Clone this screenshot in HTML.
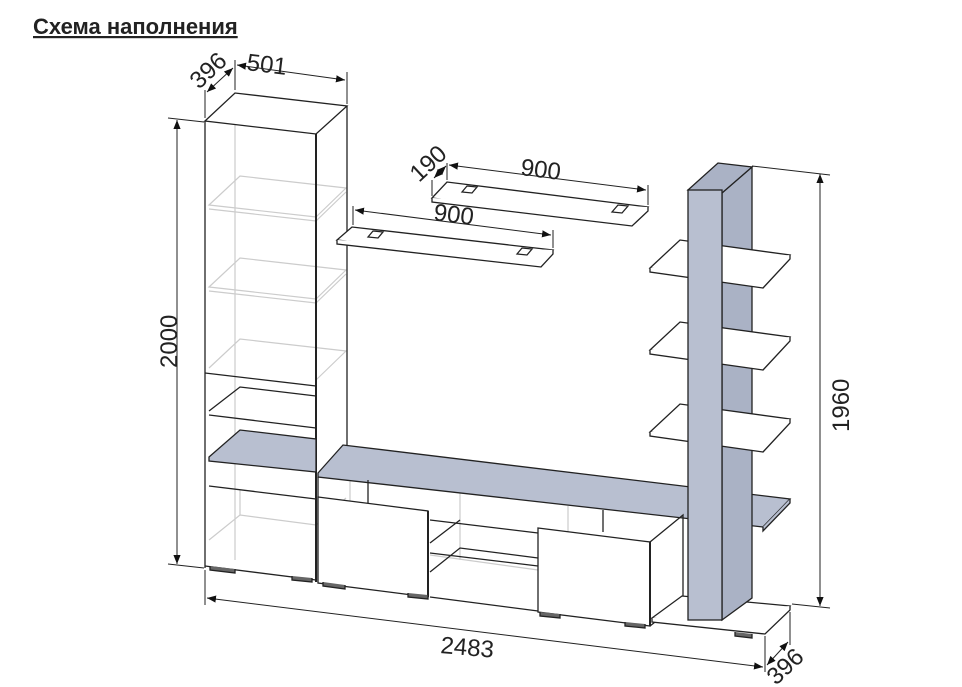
<!DOCTYPE html>
<html><head><meta charset="utf-8"><style>
body{margin:0;background:#fff;width:962px;height:687px;overflow:hidden}
svg{display:block}
text{font-family:"Liberation Sans",sans-serif;fill:#222}
</style></head><body>
<svg width="962" height="687" viewBox="0 0 962 687" xmlns="http://www.w3.org/2000/svg">
<text x="33" y="34" font-size="22" font-weight="bold" text-decoration="underline">Схема наполнения</text>
<defs><marker id="a" viewBox="0 0 10 10" refX="10" refY="5" markerWidth="9" markerHeight="9" orient="auto-start-reverse"><path d="M0,1L10,5L0,9z" fill="#111"/></marker></defs>
<g stroke="#ccc" stroke-width="1.2" fill="none">
<line x1="235" y1="95" x2="235" y2="560"/>
<path d="M209,205 L240,176 L346,188 L316,217 Z"/><path d="M209,209 L316,221 L346,192"/>
<path d="M209,287 L240,258 L346,270 L316,299 Z"/><path d="M209,291 L316,303 L346,274"/>
<path d="M209,368 L240,339 L346,351 L316,380"/>
<path d="M209,540 L240,515 L316,525 L346,498"/><line x1="240" y1="515" x2="240" y2="490"/>
<path d="M320,583 L350,556 L428,565"/><line x1="350" y1="478" x2="350" y2="556"/>
<path d="M540,612 L568,588 L650,598"/><line x1="568" y1="506" x2="568" y2="588"/>
<line x1="460" y1="490" x2="460" y2="560"/>
<line x1="430" y1="555" x2="538" y2="570"/>
</g>
<g stroke="#222" stroke-width="1.3" fill="none">
<path d="M205,121 L235,93 L347,106 L316,134 Z" fill="#fff"/>
<line x1="205" y1="121" x2="205" y2="568"/>
<line x1="316" y1="134" x2="316" y2="582" stroke-width="2"/>
<line x1="347" y1="106" x2="347" y2="445"/>
<path d="M205,373 L316,386"/>
<path d="M209,411 L240,387 L316,396"/><path d="M209,415 L316,428"/>
<path d="M209,457 L240,430 L316,439 L316,472 L209,461 Z" fill="#b8bfd0"/>
<path d="M209,486 L316,499"/>
<path d="M205,566 L316,580"/>
<path d="M210,566 L210,570 L235,573 L235,569 M292,576 L292,580 L312,582 L312,578" fill="#666"/>
<path d="M318,473 L343,445 L790,499 L763,527 L318,477 Z" fill="#b8bfd0"/>
<line x1="318" y1="477" x2="318" y2="582"/>
<line x1="368" y1="480" x2="368" y2="504"/><line x1="603" y1="510" x2="603" y2="532"/>
<path d="M318,497 L428,511 L428,597 L318,583 Z" fill="#fff"/>
<line x1="428" y1="511" x2="428" y2="597" stroke-width="2"/>
<path d="M430,520 L538,533 M430,543 L460,520 M430,553 L538,566 M430,572 L460,548 L538,558 M430,597 L538,611"/>
<path d="M538,528 L650,542 L650,626 L538,612 Z" fill="#fff"/>
<line x1="650" y1="542" x2="650" y2="626" stroke-width="2"/>
<path d="M650,542 L683,515 L683,600 L650,626"/>
<path d="M323,582 L323,586 L345,589 L345,585 M408,593 L408,597 L428,599 L428,595 M540,612 L540,616 L560,618 L560,614 M625,622 L625,626 L645,628 L645,624" fill="#666"/>
<path d="M652,618 L682,596 L790,606 L765,630 Z" fill="#fff"/>
<path d="M652,618 L652,622 L765,634 L790,610 L790,606" fill="#fff"/>
<path d="M735,632 L735,636 L752,638 L752,634" fill="#666"/>
<path d="M722,193 L752,167 L752,598 L722,620 Z" fill="#aab2c5"/>
<g fill="#fff">
<path d="M650,268 L680,240 L790,255 L763,284 Z"/><path d="M650,268 L650,272 L763,288 L790,259 L790,255"/>
<path d="M650,350 L680,322 L790,337 L763,366 Z"/><path d="M650,350 L650,354 L763,370 L790,341 L790,337"/>
<path d="M650,432 L680,404 L790,419 L763,448 Z"/><path d="M650,432 L650,436 L763,452 L790,423 L790,419"/>
</g>
<path d="M763,527 L763,531 L790,503 L790,499" fill="#b8bfd0"/>
<path d="M688,190 L718,163 L752,167 L722,193 Z" fill="#aab2c5"/>
<rect x="688" y="190" width="34" height="430" fill="#b8bfd0"/>
<path d="M432,198 L447,182 L648,207 L632,222 Z" fill="#fff"/><path d="M432,198 L432,202 L632,226 L648,211 L648,207" fill="#fff"/>
<path d="M462,192 L467,186 L477,187 L472,193 Z M612,212 L618,205 L628,206 L622,213 Z"/>
<path d="M337,240 L352,227 L553,250 L541,263 Z" fill="#fff"/><path d="M337,240 L337,244 L541,267 L553,254 L553,250" fill="#fff"/>
<path d="M368,237 L373,231 L383,232 L378,238 Z M517,254 L522,248 L532,249 L527,255 Z"/>
</g>
<g stroke="#222" stroke-width="1" fill="none">
<line x1="205" y1="118" x2="205" y2="90"/><line x1="235" y1="90" x2="235" y2="60"/><line x1="347" y1="104" x2="347" y2="72"/>
<line x1="207" y1="92" x2="233" y2="68" marker-start="url(#a)" marker-end="url(#a)"/>
<line x1="237" y1="65" x2="345" y2="80" marker-start="url(#a)" marker-end="url(#a)"/>
<line x1="168" y1="118" x2="204" y2="122"/><line x1="168" y1="564" x2="204" y2="568"/>
<line x1="177" y1="120" x2="177" y2="564" marker-start="url(#a)" marker-end="url(#a)"/>
<line x1="432" y1="196" x2="432" y2="180"/><line x1="447" y1="180" x2="447" y2="163"/><line x1="648" y1="205" x2="648" y2="185"/>
<line x1="434" y1="178" x2="446" y2="166" marker-start="url(#a)" marker-end="url(#a)"/>
<line x1="449" y1="165" x2="646" y2="190" marker-start="url(#a)" marker-end="url(#a)"/>
<line x1="353" y1="225" x2="353" y2="206"/><line x1="553" y1="248" x2="553" y2="230"/>
<line x1="355" y1="210" x2="551" y2="235" marker-start="url(#a)" marker-end="url(#a)"/>
<line x1="752" y1="166" x2="830" y2="175"/><line x1="792" y1="604" x2="830" y2="608"/>
<line x1="820" y1="174" x2="820" y2="606" marker-start="url(#a)" marker-end="url(#a)"/>
<line x1="205" y1="570" x2="205" y2="605"/><line x1="765" y1="636" x2="765" y2="672"/><line x1="790" y1="612" x2="790" y2="645"/>
<line x1="207" y1="598" x2="763" y2="667" marker-start="url(#a)" marker-end="url(#a)"/>
<line x1="767" y1="665" x2="788" y2="642" marker-start="url(#a)" marker-end="url(#a)"/>
</g>
<g font-size="24">
<text transform="translate(199,90) rotate(-43)">396</text>
<text transform="translate(246,70) rotate(7)">501</text>
<text transform="translate(177,368) rotate(-90)">2000</text>
<text transform="translate(419,183) rotate(-43)">190</text>
<text transform="translate(520,175) rotate(7)">900</text>
<text transform="translate(433,220) rotate(7)">900</text>
<text transform="translate(849,432) rotate(-90)">1960</text>
<text transform="translate(440,653) rotate(5)">2483</text>
<text transform="translate(776,686) rotate(-43)">396</text>
</g>
</svg>
</body></html>
